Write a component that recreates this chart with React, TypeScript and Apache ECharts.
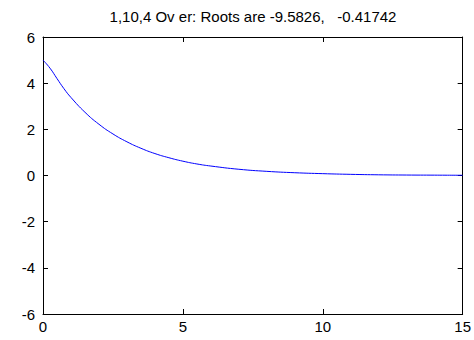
import React, { useEffect, useRef } from "react";
import * as echarts from "echarts";

const titleText = "1,10,4 Ov er: Roots are -9.5826,   -0.41742";
const timeValues = [0, 0.25, 0.5, 0.75, 1, 1.5, 2, 2.5, 3, 3.5, 4, 4.5, 5, 5.5, 6, 7, 8, 9, 10, 11, 12, 13, 14, 15];
const responseValues = [5.0, 4.65, 4.2, 3.76, 3.38, 2.74, 2.22, 1.8, 1.46, 1.18, 0.95, 0.77, 0.62, 0.5, 0.41, 0.27, 0.18, 0.12, 0.08, 0.05, 0.03, 0.02, 0.015, 0.01];
const xTicks = [0, 5, 10, 15];
const yTicks = [-6, -4, -2, 0, 2, 4, 6];

export default function App() {
  const ref = useRef<HTMLDivElement>(null);
  useEffect(() => {
    if (!ref.current) return;
    const chart = echarts.init(ref.current, null, { renderer: "svg" });
    const font = "Liberation Sans, Arial, sans-serif";
    const axisLine = { show: true, onZero: false, lineStyle: { color: "#000", width: 1 } };
    const tick = { show: true, inside: true, length: 5, lineStyle: { color: "#000" } };
    chart.setOption({
      animation: false,
      backgroundColor: "#fff",
      graphic: [
        {
          type: "text",
          x: 253,
          y: 16,
          style: {
            text: titleText,
            textAlign: "center",
            textVerticalAlign: "middle",
            fontFamily: font,
            fontSize: 15,
            fill: "#000",
          },
        },
      ],
      grid: { left: 43, right: 8, top: 37, bottom: 26, containLabel: false },
      xAxis: [
        {
          type: "value", position: "bottom", min: xTicks[0], max: xTicks[xTicks.length - 1], interval: 5,
          axisLine, axisTick: tick, splitLine: { show: false },
          axisLabel: { color: "#000", fontFamily: font, fontSize: 15, margin: 5 },
        },
        {
          type: "value", position: "top", min: xTicks[0], max: xTicks[xTicks.length - 1], interval: 5,
          axisLine, axisTick: tick, splitLine: { show: false }, axisLabel: { show: false },
        },
      ],
      yAxis: [
        {
          type: "value", position: "left", min: yTicks[0], max: yTicks[yTicks.length - 1], interval: 2,
          axisLine, axisTick: tick, splitLine: { show: false },
          axisLabel: { color: "#000", fontFamily: font, fontSize: 15, margin: 8 },
        },
        {
          type: "value", position: "right", min: yTicks[0], max: yTicks[yTicks.length - 1], interval: 2,
          axisLine, axisTick: tick, splitLine: { show: false }, axisLabel: { show: false },
        },
      ],
      series: [
        {
          type: "line",
          data: timeValues.map((t, i) => [t, responseValues[i]]),
          smooth: true,
          showSymbol: false,
          lineStyle: { color: "#0000ff", width: 1 },
          itemStyle: { color: "#0000ff" },
        },
      ],
    });
    return () => chart.dispose();
  }, []);
  return <div ref={ref} style={{ width: 474, height: 340, position: "absolute", left: 0, top: 0 }} />;
}
